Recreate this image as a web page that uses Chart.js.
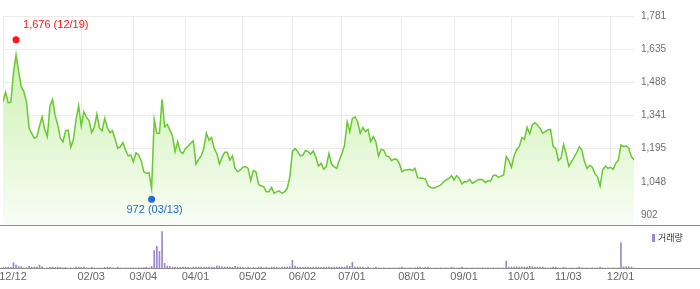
<!DOCTYPE html>
<html>
<head>
<meta charset="utf-8">
<script src="https://cdn.jsdelivr.net/npm/chart.js@4"></script>
<style>
  body { margin: 0; background: #fff; }
  #wrap { position: relative; width: 700px; height: 289px; overflow: hidden; }
  #priceBox { position: absolute; left: 0; top: 0; width: 700px; height: 225px; border-bottom: 1px solid #8c8c8c; }
  #volBox { position: absolute; left: 0; top: 226px; width: 700px; height: 63px; }
  #volBase { position: absolute; left: 0; top: 268px; width: 700px; height: 1px; background: #8c8c8c; }
  #legend { position: absolute; left: 652px; top: 231px; font: 9px "Noto Sans CJK KR", sans-serif; color: #333; line-height: 13px; }
  #legend i { display: inline-block; width: 3px; height: 8px; background: #9b86cf; margin-right: 3px; vertical-align: -1px; }
</style>
</head>
<body>
<div id="wrap">
  <div id="priceBox"><canvas id="priceChart" width="700" height="225"></canvas></div>
  <div id="volBox"><canvas id="volChart" width="700" height="63"></canvas></div>
  <div id="volBase"></div>
  <div id="legend"><i></i>거래량</div>
</div>
<script>
// daily closes, 2024-12-12 .. 2025-12-12 (trading days)
const closes = [
  1402, 1444, 1398, 1400, 1528, 1609, 1535, 1469, 1447, 1402,
  1285, 1263, 1241, 1248, 1295, 1336, 1281, 1248, 1383, 1413,
  1341, 1300, 1241, 1226, 1274, 1277, 1201, 1236, 1322, 1385,
  1295, 1358, 1334, 1319, 1266, 1289, 1347, 1287, 1274, 1329,
  1289, 1266, 1274, 1236, 1197, 1204, 1222, 1189, 1163, 1167,
  1137, 1177, 1167, 1142, 1093, 1086, 1089, 1020, 1325, 1263,
  1263, 1413, 1292, 1302, 1277, 1251, 1182, 1226, 1182, 1174,
  1196, 1207, 1219, 1230, 1127, 1148, 1163, 1196, 1263, 1233,
  1244, 1196, 1174, 1127, 1157, 1179, 1179, 1145, 1163, 1108,
  1093, 1101, 1113, 1116, 1108, 1054, 1098, 1093, 1039, 1030,
  1027, 1005, 1005, 1024, 998, 1005, 1008, 998, 1005, 1020,
  1071, 1182, 1196, 1182, 1163, 1167, 1186, 1182, 1171, 1185,
  1157, 1118, 1130, 1104, 1116, 1174, 1127, 1116, 1108, 1145,
  1174, 1211, 1314, 1270, 1329, 1336, 1314, 1263, 1288, 1270,
  1280, 1226, 1248, 1226, 1163, 1192, 1189, 1163, 1160, 1142,
  1149, 1148, 1130, 1093, 1101, 1101, 1104, 1098, 1108, 1067,
  1064, 1064, 1061, 1032, 1024, 1020, 1024, 1030, 1035, 1049,
  1057, 1064, 1076, 1057, 1076, 1064, 1039, 1049, 1049, 1060,
  1042, 1049, 1057, 1060, 1057, 1045, 1054, 1052, 1076, 1079,
  1068, 1074, 1079, 1160, 1142, 1113, 1163, 1192, 1204, 1244,
  1236, 1289, 1260, 1300, 1310, 1300, 1285, 1263, 1270, 1278,
  1280, 1204, 1196, 1142, 1152, 1214, 1171, 1118, 1138, 1157,
  1177, 1204, 1189, 1138, 1108, 1121, 1113, 1086, 1071, 1030,
  1101, 1118, 1108, 1113, 1104, 1130, 1145, 1211, 1204, 1208,
  1196, 1160, 1145
];

// volume, thousand shares
const volumes = [
  22, 20, 24, 20, 114, 66, 40, 30, 10, 12,
  40, 24, 22, 24, 66, 28, 6, 8, 20, 22,
  20, 22, 20, 8, 20, 6, 8, 6, 22, 24,
  20, 22, 8, 6, 22, 8, 6, 8, 6, 20,
  24, 20, 8, 6, 22, 8, 6, 8, 6, 10,
  8, 6, 8, 10, 12, 24, 10, 40, 354, 440,
  340, 734, 100, 46, 34, 26, 22, 24, 20, 22,
  24, 20, 10, 22, 24, 22, 26, 22, 24, 22,
  24, 20, 46, 44, 28, 24, 22, 26, 24, 40,
  24, 22, 20, 10, 22, 8, 20, 8, 22, 24,
  8, 22, 8, 24, 22, 20, 8, 22, 24, 22,
  28, 166, 46, 24, 22, 20, 22, 24, 20, 22,
  22, 24, 20, 22, 24, 22, 20, 22, 24, 22,
  22, 26, 48, 40, 120, 26, 24, 26, 24, 8,
  22, 6, 8, 22, 8, 6, 8, 6, 8, 6,
  8, 6, 8, 22, 8, 6, 8, 6, 8, 22,
  24, 8, 22, 24, 8, 6, 8, 6, 8, 6,
  8, 6, 22, 8, 6, 8, 22, 6, 8, 6,
  8, 6, 8, 6, 8, 6, 8, 6, 8, 6,
  8, 6, 10, 146, 26, 24, 26, 28, 24, 26,
  24, 26, 40, 28, 24, 26, 22, 24, 8, 6,
  8, 24, 22, 8, 6, 24, 8, 6, 8, 6,
  8, 22, 8, 6, 8, 6, 8, 6, 8, 22,
  8, 6, 8, 6, 8, 6, 10, 514, 30, 28,
  30, 26, 10
];

// month-start positions (trading-day index) and their labels
const tickIndex = [0, 30, 50, 70, 92, 111, 130, 153, 173, 195, 213, 233];
const tickLabels = ['12/12', '02/03', '03/04', '04/01', '05/02', '06/02', '07/01', '08/01', '09/01', '10/01', '11/03', '12/01'];
const priceTicks = [902, 1048, 1195, 1341, 1488, 1635, 1781];

// period high / low markers
const markerIdx = [5, 57];
const markerVal = [1676, 972];
const markerText = ['1,676 (12/19)', '972 (03/13)'];
const markerColor = ['#ff1414', '#1f6bd8'];

const lastIdx = closes.length - 1;
const setTicks = s => { s.ticks = tickIndex.map(v => ({ value: v })); };
// keep chart areas fixed so both panels line up
const noPad = s => { s.paddingLeft = 0; s.paddingRight = 0; s.paddingTop = 0; s.paddingBottom = 0; };

const markerLabels = {
  id: 'markerLabels',
  afterDatasetsDraw(chart) {
    const meta = chart.getDatasetMeta(1);
    const c = chart.ctx;
    c.save();
    c.font = '11px "Liberation Sans", Arial, sans-serif';
    c.textBaseline = 'middle';
    meta.data.forEach((pt, k) => {
      c.fillStyle = markerColor[k];
      if (k === 0) {
        c.textAlign = 'left';
        c.fillText(markerText[k], pt.x + 7, pt.y - 15);
      } else {
        c.textAlign = 'center';
        c.fillText(markerText[k], pt.x + 3, pt.y + 11);
      }
    });
    c.restore();
  }
};

new Chart(document.getElementById('priceChart'), {
  type: 'line',
  data: {
    datasets: [{
      data: closes.map((v, i) => ({ x: i, y: v })),
      borderColor: '#66c92e',
      borderWidth: 1.5,
      pointRadius: 0,
      tension: 0,
      fill: 'start',
      order: 2,
      backgroundColor: ctx => {
        const a = ctx.chart.chartArea;
        if (!a) return 'rgba(0,0,0,0)';
        const g = ctx.chart.ctx.createLinearGradient(0, a.top, 0, a.bottom);
        g.addColorStop(0, '#c4efa2');
        g.addColorStop(1, '#f8fdf5');
        return g;
      }
    }, {
      data: markerIdx.map((x, k) => ({ x, y: markerVal[k] })),
      showLine: false,
      order: 1,
      pointRadius: 3.5,
      pointBorderWidth: 0,
      pointBackgroundColor: markerColor,
      pointBorderColor: markerColor,
      fill: false,
      clip: false
    }]
  },
  options: {
    responsive: false,
    animation: false,
    layout: { autoPadding: false, padding: { left: 3, top: 16, right: 0, bottom: 0 } },
    plugins: { legend: { display: false }, tooltip: { enabled: false } },
    scales: {
      x: {
        type: 'linear', min: 0, max: lastIdx, offset: false,
        afterBuildTicks: setTicks,
        afterFit: s => { s.height = 0; noPad(s); },
        ticks: { display: false },
        grid: { color: '#ebebeb', drawTicks: false },
        border: { display: false }
      },
      y: {
        position: 'right', min: 858, max: 1781,
        afterBuildTicks: s => { s.ticks = priceTicks.map(v => ({ value: v })); },
        afterFit: s => { s.width = 66; noPad(s); },
        ticks: {
          padding: 7, color: '#6e6e6e',
          font: { family: '"Liberation Sans", Arial, sans-serif', size: 10 },
          callback: v => v.toLocaleString('en-US')
        },
        grid: { color: '#ebebeb', drawTicks: false },
        border: { display: false }
      }
    }
  },
  plugins: [markerLabels]
});

new Chart(document.getElementById('volChart'), {
  type: 'bar',
  data: {
    datasets: [{
      label: '거래량',
      data: volumes.map((v, i) => ({ x: i, y: v })),
      backgroundColor: '#9b86cf',
      barThickness: 1
    }]
  },
  options: {
    responsive: false,
    animation: false,
    layout: { autoPadding: false, padding: { left: 3, top: 0, right: 66, bottom: 0 } },
    plugins: { legend: { display: false }, tooltip: { enabled: false } },
    scales: {
      x: {
        type: 'linear', min: 0, max: lastIdx, offset: false,
        afterBuildTicks: setTicks,
        afterFit: s => { s.height = 20.7; noPad(s); },
        ticks: {
          autoSkip: false, maxRotation: 0, labelOffset: 10, padding: 2,
          color: '#666',
          font: { family: '"Liberation Sans", Arial, sans-serif', size: 11 },
          callback: v => tickLabels[tickIndex.indexOf(v)]
        },
        grid: { display: false, drawTicks: false, offset: false },
        border: { display: false }
      },
      y: { display: false, min: 0, max: 846 }
    }
  }
});
</script>
</body>
</html>
